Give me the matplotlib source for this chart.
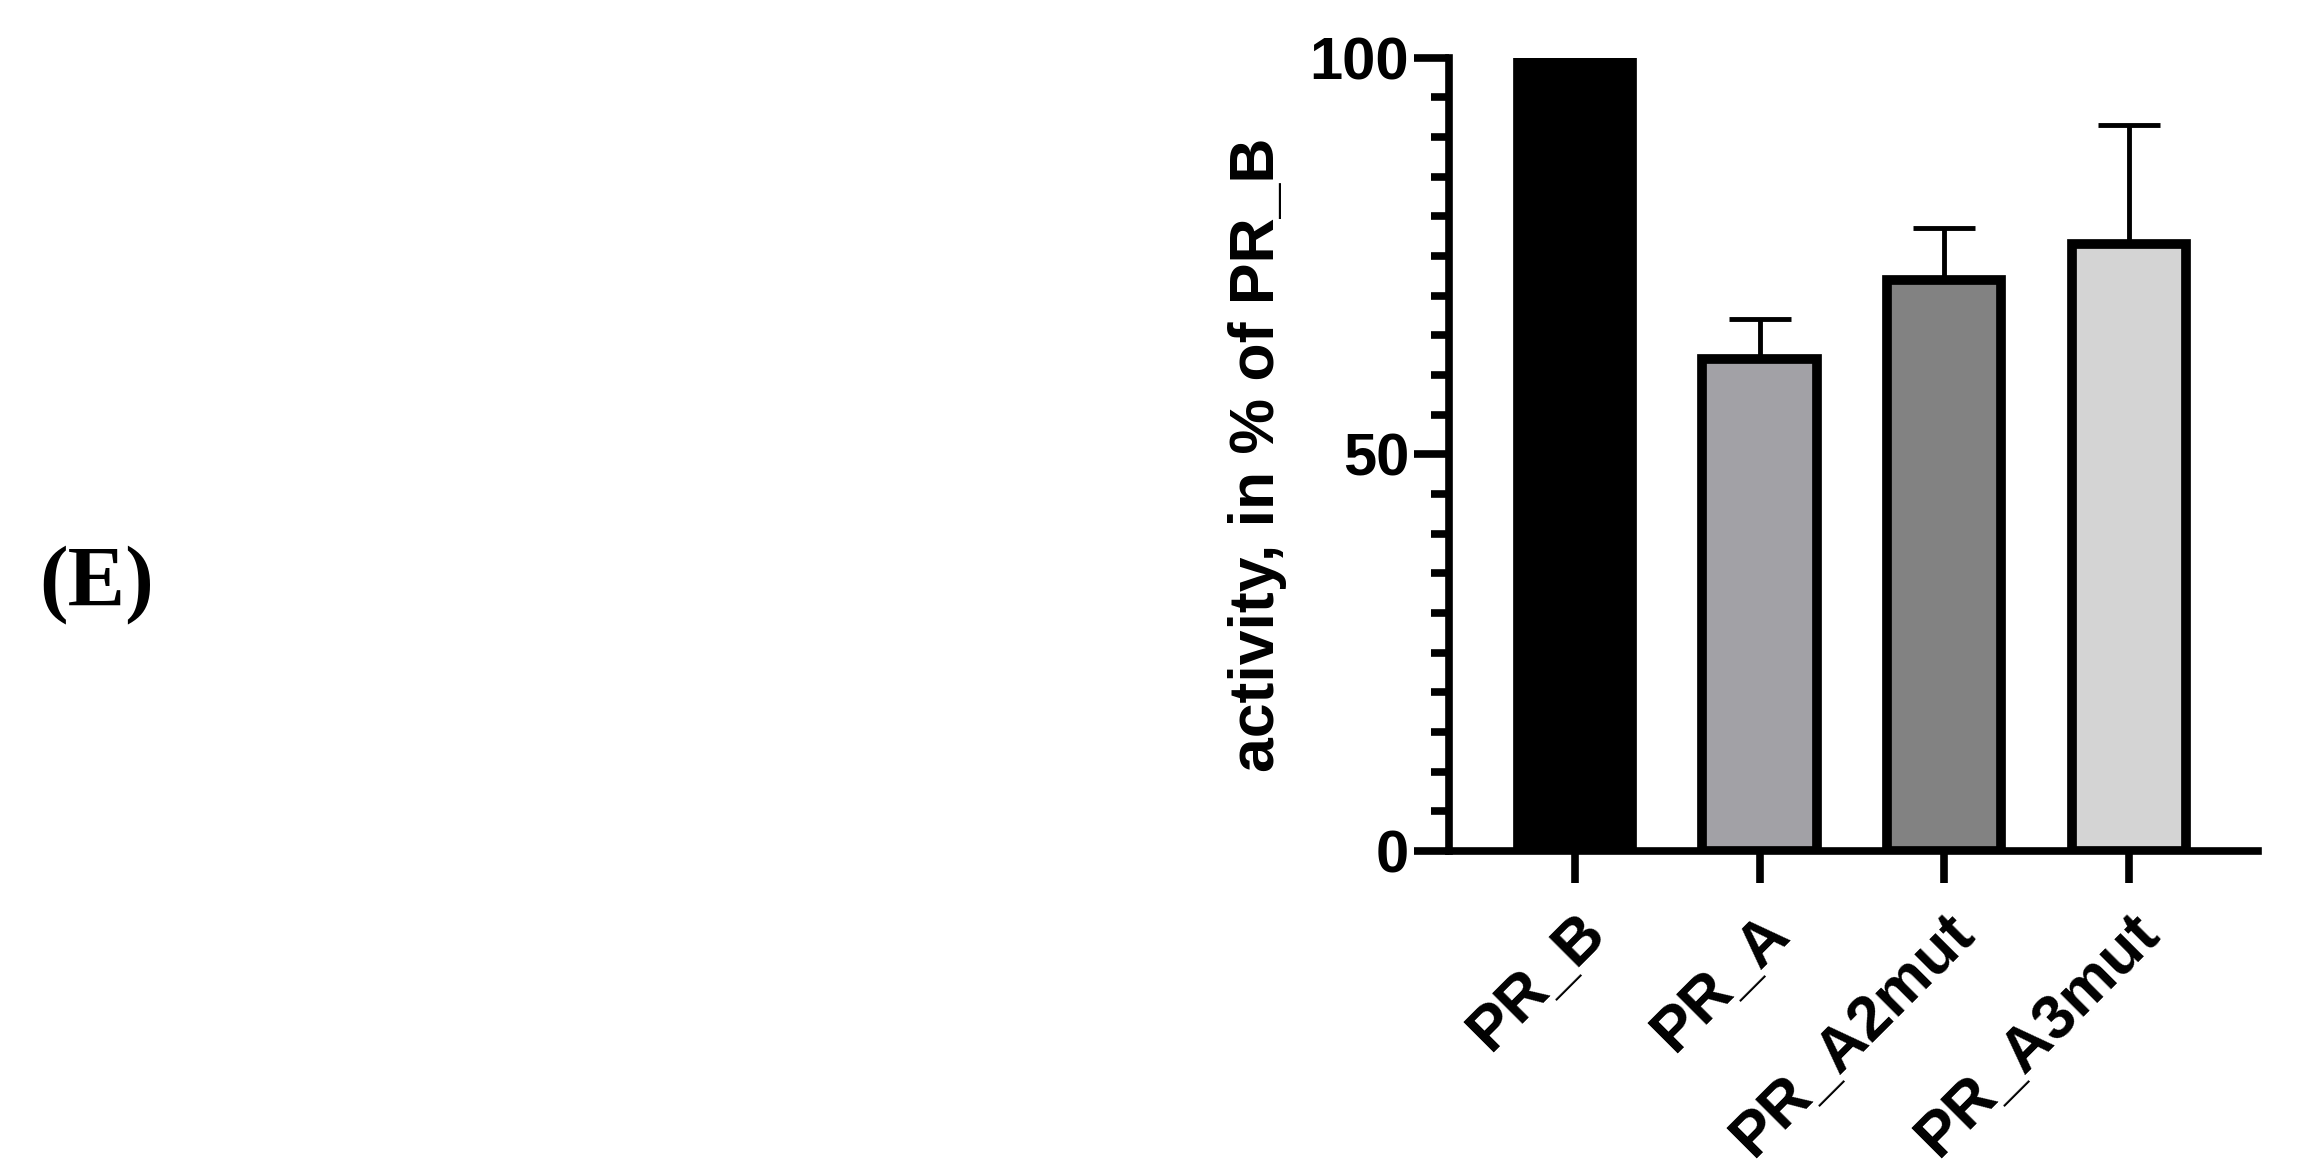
import matplotlib
matplotlib.use("Agg")
import matplotlib.pyplot as plt
from matplotlib.ticker import MultipleLocator
import numpy as np

# data
labels = ["PR_B", "PR_A", "PR_A2mut", "PR_A3mut"]
means = [100, 62, 72, 76.5]
upper_err = [0, 5, 6.5, 15]
bar_colors = ["#000000", "#a2a1a6", "#828282", "#d4d4d4"]

plt.rcParams['font.family'] = ['Liberation Sans', 'DejaVu Sans']
plt.rcParams['font.weight'] = 'bold'

fig = plt.figure(figsize=(22.97, 11.74), dpi=100)
ax = fig.add_axes([0.631, 0.275, 0.352, 0.676])

x = np.arange(len(labels))
ax.errorbar(x, means, yerr=[np.zeros(len(x)), upper_err], fmt='none',
            ecolor='black', elinewidth=3.5, capsize=22, capthick=3.5, zorder=1)
ax.bar(x, means, width=0.62, color=bar_colors, edgecolor='black',
       linewidth=7, zorder=2)

ax.set_xlim(-0.68, 3.7)
ax.set_ylim(0, 100)
ax.yaxis.set_major_locator(MultipleLocator(50))
ax.yaxis.set_minor_locator(MultipleLocator(5))

for side in ['top', 'right']:
    ax.spines[side].set_visible(False)
for side in ['left', 'bottom']:
    ax.spines[side].set_linewidth(5.5)
ax.spines['bottom'].set_zorder(3)

ax.tick_params(axis='y', which='major', length=25, width=5.5, labelsize=43, pad=4)
ax.tick_params(axis='y', which='minor', length=13, width=5.5)
ax.tick_params(axis='x', which='major', length=23, width=5.5, labelsize=45, pad=14)

ax.set_xticks(x)
ax.set_xticklabels(labels, rotation=45, ha='right', rotation_mode='anchor',
                   fontweight='bold')
for t in ax.get_yticklabels():
    t.set_fontweight('bold')

ax.set_ylabel("activity, in % of PR_B", fontsize=45, fontweight='bold', labelpad=16)

fig.text(0.042, 0.502, "(E)", fontsize=62, fontweight='bold',
         family=['Liberation Serif', 'DejaVu Serif'], ha='center', va='center')

fig.savefig("out.png", dpi=100)
